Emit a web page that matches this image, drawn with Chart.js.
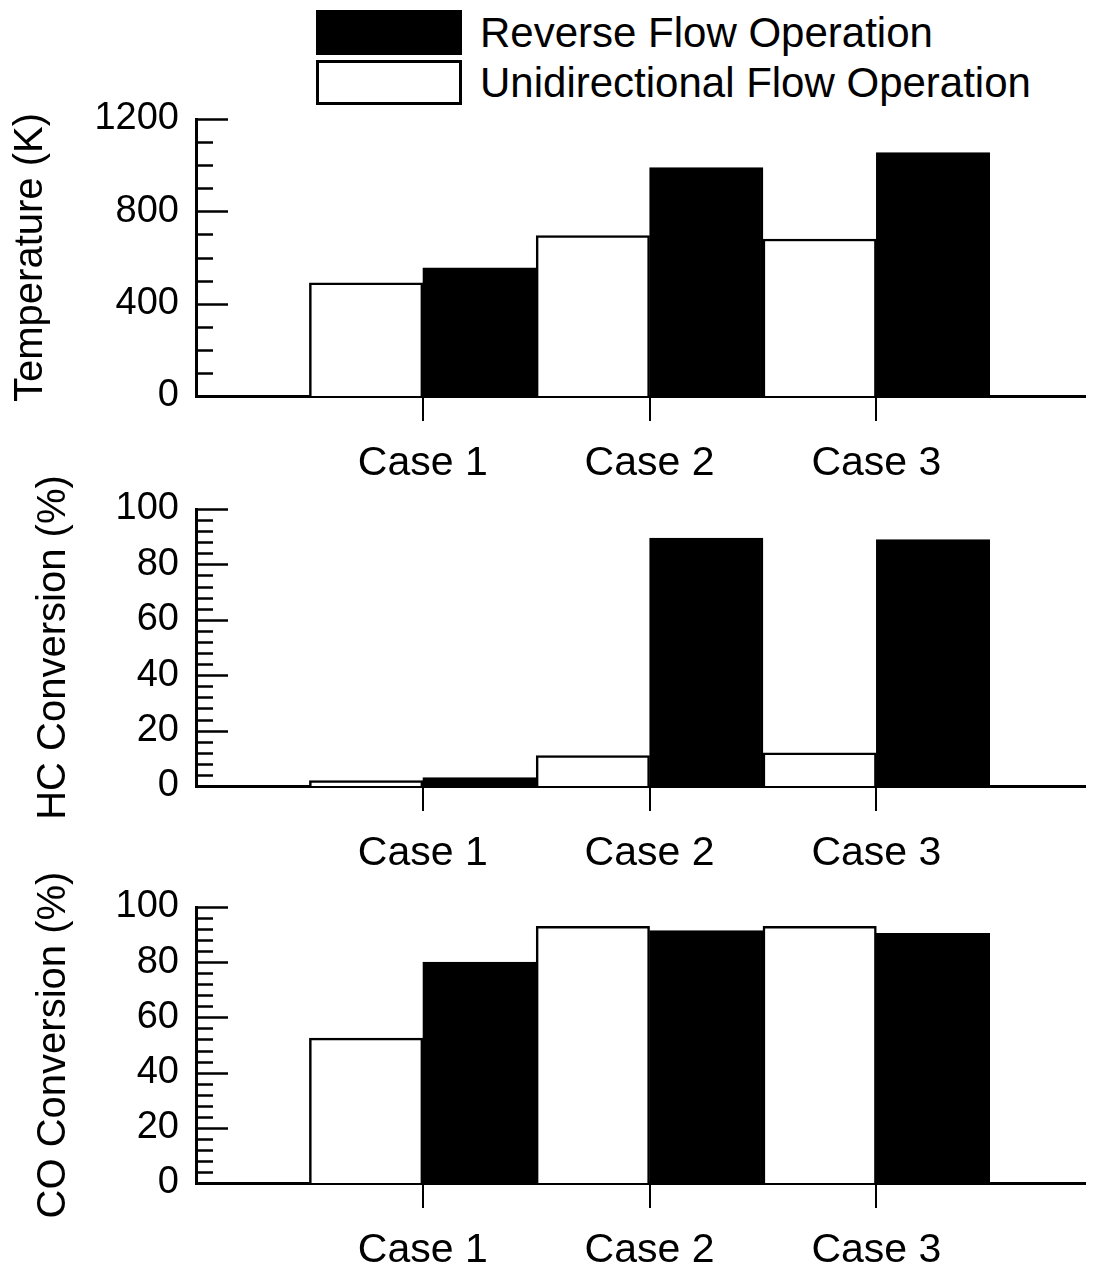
<!DOCTYPE html>
<html>
<head>
<meta charset="utf-8">
<script src="https://cdn.jsdelivr.net/npm/chart.js@4.4.0/dist/chart.umd.min.js"></script>
<style>
body { margin: 0; background: #fff; width: 1107px; height: 1268px; overflow: hidden; position: relative; font-family: "Liberation Sans", Arial, sans-serif; }
canvas { position: absolute; left: 0; }
.legend-box { position: absolute; left: 316px; width: 146px; height: 45px; box-sizing: border-box; border: 3px solid #000; }
.legend-text { position: absolute; left: 480px; font-size: 42px; line-height: 45px; color: #000; white-space: nowrap; }
</style>
</head>
<body>
<div class="legend-box" style="top:10px;background:#000"></div>
<div class="legend-text" style="top:10px">Reverse Flow Operation</div>
<div class="legend-box" style="top:60px;background:#fff"></div>
<div class="legend-text" style="top:60px">Unidirectional Flow Operation</div>

<canvas id="tempChart" width="1107" height="421" style="top:79px"></canvas>
<canvas id="hcChart" width="1107" height="425" style="top:465px"></canvas>
<canvas id="coChart" width="1107" height="422" style="top:865px"></canvas>

<script>
const cases = ['Case 1', 'Case 2', 'Case 3'];

// values
const tempReverse = [555, 990, 1055];
const tempUni = [490, 695, 680];
const hcReverse = [3, 89.5, 89];
const hcUni = [2, 11, 12];
const coReverse = [80, 91.5, 90.5];
const coUni = [52.5, 93, 93];

const FONT = '"Liberation Sans", Arial, sans-serif';

// the ticks on the y axis point into the plot, with short minor ones
const innerTicks = {
    id: 'innerTicks',
    afterDraw(chart, args, opts) {
        const y = chart.scales.y;
        const ctx = chart.ctx;
        const left = chart.chartArea.left;
        ctx.save();
        ctx.strokeStyle = '#000';
        ctx.lineWidth = 2.5;
        for (let k = 0; k * opts.minor <= y.max; k++) {
            const v = k * opts.minor;
            const py = Math.round(y.getPixelForValue(v)) + 0.5;
            const len = (v % opts.major === 0) ? 32 : 17;
            ctx.beginPath();
            ctx.moveTo(left, py);
            ctx.lineTo(left + len, py);
            ctx.stroke();
        }
        ctx.restore();
    }
};

function makePanel(id, title, reverse, uni, yMax, major, minor, titlePad, padTop) {
    const ctx = document.getElementById(id).getContext('2d');
    return new Chart(ctx, {
        type: 'bar',
        data: {
            datasets: [
                {
                    label: 'Unidirectional Flow Operation',
                    data: uni.map((v, i) => ({ x: i + 1, y: v })),
                    backgroundColor: '#fff',
                    borderColor: '#000',
                    borderWidth: 2.5
                },
                {
                    label: 'Reverse Flow Operation',
                    data: reverse.map((v, i) => ({ x: i + 1, y: v })),
                    backgroundColor: '#000',
                    borderColor: '#000',
                    borderWidth: 2.5
                }
            ]
        },
        options: {
            responsive: false,
            animation: false,
            devicePixelRatio: 1,
            categoryPercentage: 1,
            barPercentage: 1,
            layout: { padding: { top: padTop, right: 22, left: 0, bottom: 0 } },
            plugins: {
                legend: { display: false },
                tooltip: { enabled: false },
                innerTicks: { major: major, minor: minor }
            },
            scales: {
                x: {
                    type: 'linear',
                    offset: false,
                    min: 0,
                    max: 3.92,
                    afterBuildTicks: scale => { scale.ticks = cases.map((c, i) => ({ value: i + 1 })); },
                    afterFit: scale => { scale.height = 104; },
                    grid: { display: true, offset: false, drawOnChartArea: false, drawTicks: true, tickLength: 25, color: '#000', lineWidth: 2 },
                    border: { display: true, color: '#000', width: 3 },
                    ticks: {
                        color: '#000',
                        padding: 18,
                        maxRotation: 0,
                        autoSkip: false,
                        font: { family: FONT, size: 41 },
                        callback: v => cases[v - 1]
                    }
                },
                y: {
                    min: 0,
                    max: yMax,
                    afterFit: scale => { scale.width = 196; },
                    grid: { display: false, drawTicks: false },
                    border: { display: true, color: '#000', width: 3 },
                    ticks: {
                        stepSize: major,
                        color: '#000',
                        padding: 17,
                        font: { family: FONT, size: 38 },
                        callback: v => String(v)
                    },
                    title: {
                        display: true,
                        text: title,
                        color: '#000',
                        padding: { top: titlePad, bottom: 0 },
                        font: { family: FONT, size: 40 }
                    }
                }
            }
        },
        plugins: [innerTicks]
    });
}

makePanel('tempChart', 'Temperature (K)', tempReverse, tempUni, 1200, 400, 100, 7, 40);
makePanel('hcChart', 'HC Conversion (%)', hcReverse, hcUni, 100, 20, 4, 30, 44);
makePanel('coChart', 'CO Conversion (%)', coReverse, coUni, 100, 20, 4, 30, 42);
</script>
</body>
</html>
